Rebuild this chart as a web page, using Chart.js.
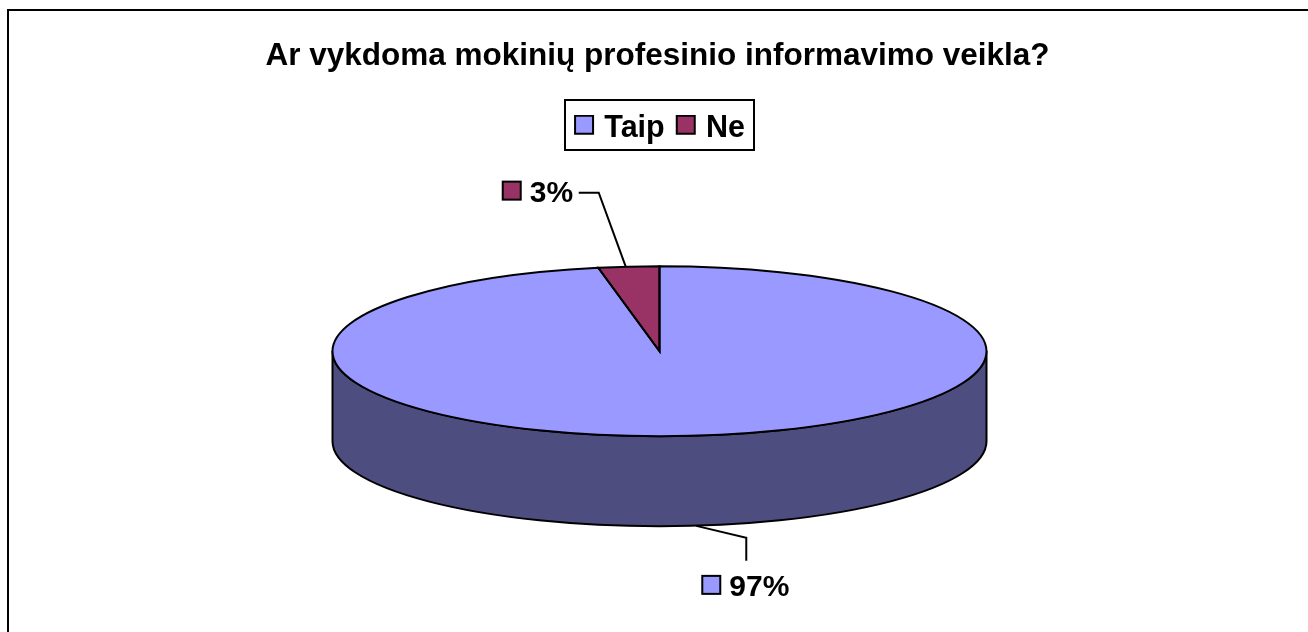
<!DOCTYPE html>
<html>
<head>
<meta charset="utf-8">
<style>html,body{margin:0;padding:0;background:#fff}canvas{display:block}</style>
<script src="https://cdn.jsdelivr.net/npm/chart.js@4"></script>
</head>
<body>
<canvas id="c" width="1308" height="632"></canvas>
<script>
const titleText = 'Ar vykdoma mokinių profesinio informavimo veikla?';
const categories = ['Taip', 'Ne'];
const shares = [97, 3];
const sliceColors = ['#9999FF', '#993366'];
const sideColors = ['#4D4D80', '#4D1A33'];
const FONT = '"Liberation Sans", Arial, sans-serif';
const RX = 327, RY = 85, DEPTH = 90;

function ellipseOf(arc) { return {x: arc.x, y: arc.y}; }

// legend swatch: square sitting slightly above the row's centre line
function swatch(color) {
  const s = document.createElement('canvas');
  s.width = 22; s.height = 28;
  const g = s.getContext('2d');
  g.fillStyle = color; g.strokeStyle = '#000'; g.lineWidth = 2;
  g.fillRect(2, 1, 18, 18);
  g.strokeRect(2, 1, 18, 18);
  return s;
}

const tilted3D = {
  id: 'tilted3D',
  afterLayout(chart) {
    chart.titleBlock.left -= 2; chart.titleBlock.right -= 2;
    chart.legend.left += 2.5; chart.legend.right += 2.5;
  },
  beforeDraw(chart) {
    const ctx = chart.ctx;
    ctx.save();
    ctx.strokeStyle = '#000'; ctx.lineWidth = 2;
    ctx.beginPath();
    ctx.moveTo(8, 632); ctx.lineTo(8, 10); ctx.lineTo(1308, 10);
    ctx.stroke();
    ctx.restore();
  },
  afterDraw(chart) {
    const ctx = chart.ctx;
    const hits = chart.legend.legendHitBoxes;
    const first = hits[0], last = hits[hits.length - 1];
    const cy = first.top + first.height / 2;
    ctx.save();
    ctx.strokeStyle = '#000'; ctx.lineWidth = 2;
    ctx.strokeRect(Math.round(first.left - 14), Math.round(cy - 29), Math.round(last.left + last.width - first.left + 23), 50);
    ctx.restore();
  },
  beforeDatasetsDraw(chart) {
    const ctx = chart.ctx;
    const arcs = chart.getDatasetMeta(0).data;
    const c = ellipseOf(arcs[0]);
    // extruded side, front half only
    ctx.save();
    ctx.lineWidth = 2; ctx.strokeStyle = '#000'; ctx.lineJoin = 'round';
    arcs.forEach((arc, i) => {
      const a0 = Math.max(arc.startAngle, 0), a1 = Math.min(arc.endAngle, Math.PI);
      if (a1 <= a0) return;
      ctx.beginPath();
      ctx.ellipse(c.x, c.y, RX, RY, 0, a0, a1);
      ctx.ellipse(c.x, c.y + DEPTH, RX, RY, 0, a1, a0, true);
      ctx.closePath();
      ctx.fillStyle = sideColors[i];
      ctx.fill(); ctx.stroke();
    });
    ctx.restore();
    // squash the library's circular pie into the tilted ellipse
    const r = arcs[0].outerRadius;
    ctx.save();
    ctx.translate(c.x, c.y);
    ctx.scale(RX / r, RY / r);
    ctx.translate(-c.x, -c.y);
  },
  afterDatasetsDraw(chart) {
    const ctx = chart.ctx;
    ctx.restore();
    const arcs = chart.getDatasetMeta(0).data;
    const c = ellipseOf(arcs[0]);
    ctx.save();
    ctx.lineWidth = 2; ctx.strokeStyle = '#000'; ctx.lineJoin = 'miter';
    arcs.forEach(arc => {
      ctx.beginPath();
      ctx.moveTo(c.x, c.y);
      ctx.ellipse(c.x, c.y, RX, RY, 0, arc.startAngle, arc.endAngle);
      ctx.closePath();
      ctx.stroke();
    });
    // leader lines and data labels
    const total = shares.reduce((a, b) => a + b, 0);
    ctx.font = 'bold 30px ' + FONT;
    ctx.textBaseline = 'middle';
    const layouts = [
      {dy: DEPTH, ax: 6, elbow: [50, 12, 50, 35], box: [6, 50], text: [33, 62]},
      {dy: 0, ax: -3, elbow: [-27, -74, -47, -74], box: [-123, -85], text: [-96, -73]}
    ];
    arcs.forEach((arc, i) => {
      const mid = (arc.startAngle + arc.endAngle) / 2;
      const L = layouts[i];
      const ax = c.x + RX * Math.cos(mid) + L.ax;
      const ay = c.y + RY * Math.sin(mid) + L.dy;
      ctx.beginPath();
      ctx.moveTo(ax, ay);
      ctx.lineTo(ax + L.elbow[0], ay + L.elbow[1]);
      ctx.lineTo(ax + L.elbow[2], ay + L.elbow[3]);
      ctx.stroke();
      ctx.fillStyle = sliceColors[i];
      ctx.fillRect(ax + L.box[0], ay + L.box[1], 18, 18);
      ctx.strokeRect(ax + L.box[0], ay + L.box[1], 18, 18);
      ctx.fillStyle = '#000';
      ctx.textAlign = 'left';
      ctx.fillText(Math.round(shares[i] / total * 100) + '%', ax + L.text[0], ay + L.text[1]);
    });
    ctx.restore();
  }
};

new Chart(document.getElementById('c'), {
  type: 'pie',
  plugins: [tilted3D],
  data: {
    labels: categories,
    datasets: [{data: shares, backgroundColor: sliceColors, borderWidth: 0}]
  },
  options: {
    responsive: false,
    animation: false,
    layout: {padding: {left: 11, right: 0, top: 32, bottom: 83.5}},
    plugins: {
      tooltip: {enabled: false},
      title: {
        display: true, text: titleText, color: '#000',
        font: {family: FONT, size: 31.5, weight: 'bold'},
        padding: {top: 5, bottom: 22.7}
      },
      legend: {
        position: 'top',
        labels: {
          color: '#000',
          font: {family: FONT, size: 30.5, weight: 'bold'},
          usePointStyle: true, boxWidth: 10, boxHeight: 18, padding: 16,
          generateLabels(chart) {
            return categories.map((t, i) => ({
              text: t, fillStyle: sliceColors[i], strokeStyle: '#000', lineWidth: 2,
              fontColor: '#000', index: i, hidden: false, pointStyle: swatch(sliceColors[i]), rotation: 0
            }));
          }
        }
      }
    }
  }
});
</script>
</body>
</html>
